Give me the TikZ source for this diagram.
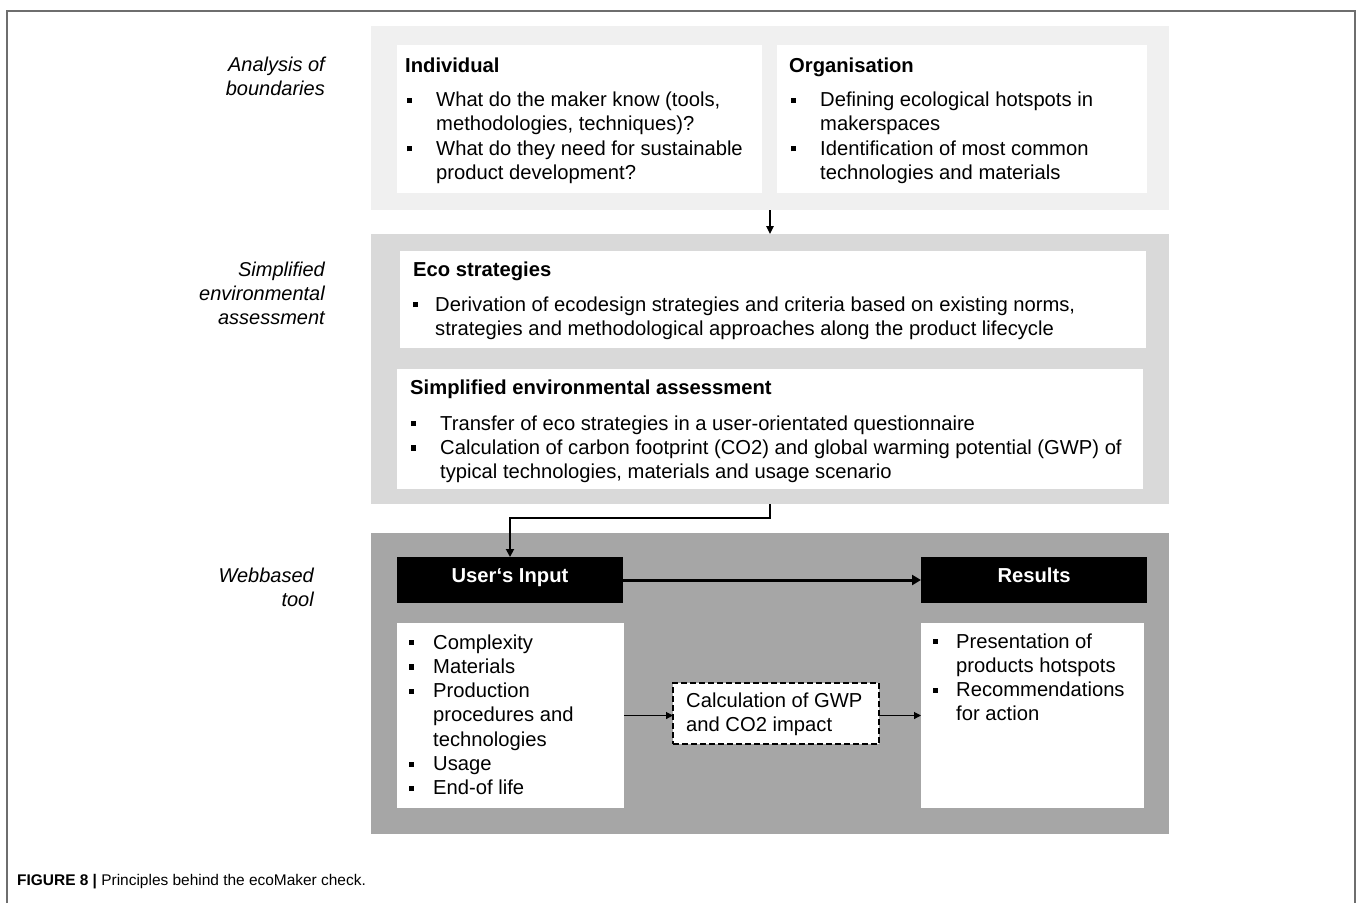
\documentclass[tikz,border=0pt]{standalone}
\usepackage{fontspec}
\setmainfont{Liberation Sans}
\usetikzlibrary{arrows.meta}
\definecolor{panelA}{HTML}{F0F0F0}
\definecolor{panelB}{HTML}{D9D9D9}
\definecolor{panelC}{HTML}{A6A6A6}
\definecolor{frameC}{HTML}{6E6E6E}
\newcommand{\bsq}{\rule[3.8pt]{4.8pt}{5.2pt}}
\newcommand{\txtfont}{\fontsize{20.2}{24.3}\selectfont}
\newcommand{\lblfont}{\fontsize{20}{24}\selectfont\itshape}
\begin{document}
\begin{tikzpicture}[x=1pt,y=-1pt,
  panel/.style={anchor=north west, inner sep=0pt, outer sep=0pt, draw=none},
  wbox/.style={panel, fill=white},
  bbox/.style={panel, fill=black},
  ttl/.style={anchor=base west, inner sep=0pt, font=\txtfont\bfseries},
  lst/.style={anchor=base west, inner sep=0pt, font=\txtfont},
  lbl/.style={anchor=base east, inner sep=0pt, font=\lblfont},
  hdr/.style={anchor=base, inner sep=0pt, font=\txtfont\bfseries, text=white},
  arrthin/.style={line width=1.4pt, -{Triangle[length=8pt,width=7.5pt]}},
  arrmid/.style={line width=1.8pt, -{Triangle[length=8pt,width=8pt]}},
  arrthick/.style={line width=3pt, -{Triangle[length=9pt,width=10pt]}},
  arrsmall/.style={line width=1.1pt, -{Triangle[length=7pt,width=7pt]}},
  frameline/.style={draw=frameC, line width=1.5pt}
]
\useasboundingbox (0,0) rectangle (1357,903);
% frame
\draw[frameline] (7,903) |- (1355,11) -- (1355,903);

% ---------- top panel ----------
\node[panel, fill=panelA, minimum width=798pt, minimum height=184pt] (topP) at (371,26) {};
\node[wbox, minimum width=365pt, minimum height=148pt] (indiv) at (397,45) {};
\node[wbox, minimum width=370pt, minimum height=148pt] (org) at (777,45) {};
\node[ttl] (indivT) at (405,72) {Individual};
\node[lst] (indivL) at (407,106.5) {\begin{tabular}[t]{@{}l@{\hspace{24.2pt}}l@{}}
\bsq & What do the maker know (tools,\\
     & methodologies, techniques)?\\
\bsq & What do they need for sustainable\\
     & product development?
\end{tabular}};
\node[ttl] (orgT) at (789,72) {Organisation};
\node[lst] (orgL) at (791,106.5) {\begin{tabular}[t]{@{}l@{\hspace{24.2pt}}l@{}}
\bsq & Defining ecological hotspots in\\
     & makerspaces\\
\bsq & Identification of most common\\
     & technologies and materials
\end{tabular}};

% ---------- middle panel ----------
\node[panel, fill=panelB, minimum width=798pt, minimum height=270pt] (midP) at (371,234) {};
\node[wbox, minimum width=746pt, minimum height=97pt] (eco) at (400,251) {};
\node[wbox, minimum width=746pt, minimum height=120pt] (simp) at (397,369) {};
\node[ttl] (ecoT) at (413,276) {Eco strategies};
\node[lst] (ecoL) at (413,311) {\begin{tabular}[t]{@{}l@{\hspace{17.2pt}}l@{}}
\bsq & Derivation of ecodesign strategies and criteria based on existing norms,\\
     & strategies and methodological approaches along the product lifecycle
\end{tabular}};
\node[ttl] (simpT) at (410,394) {Simplified environmental assessment};
\node[lst] (simpL) at (411,430) {\begin{tabular}[t]{@{}l@{\hspace{24.2pt}}l@{}}
\bsq & Transfer of eco strategies in a user-orientated questionnaire\\
\bsq & Calculation of carbon footprint (CO2) and global warming potential (GWP) of\\
     & typical technologies, materials and usage scenario
\end{tabular}};

% ---------- bottom panel ----------
\node[panel, fill=panelC, minimum width=798pt, minimum height=301pt] (botP) at (371,533) {};
\node[bbox, minimum width=226pt, minimum height=46pt] (inp) at (397,557) {};
\node[bbox, minimum width=226pt, minimum height=46pt] (res) at (921,557) {};
\node[hdr] (inpT) at (510,582) {User‘s Input};
\node[hdr] (resT) at (1034,582) {Results};
\node[wbox, minimum width=227pt, minimum height=185pt] (inl) at (397,623) {};
\node[wbox, minimum width=223pt, minimum height=185pt] (resl) at (921,623) {};
\node[panel, fill=white, draw=black, line width=1.3pt, dash pattern=on 6pt off 3pt, minimum width=206pt, minimum height=61pt] (calc) at (673,683) {};
\node[lst] (inlL) at (409,649) {\begin{tabular}[t]{@{}l@{\hspace{19.2pt}}l@{}}
\bsq & Complexity\\
\bsq & Materials\\
\bsq & Production\\
     & procedures and\\
     & technologies\\
\bsq & Usage\\
\bsq & End-of life
\end{tabular}};
\node[lst] (reslL) at (933,648) {\begin{tabular}[t]{@{}l@{\hspace{18.2pt}}l@{}}
\bsq & Presentation of\\
     & products hotspots\\
\bsq & Recommendations\\
     & for action
\end{tabular}};
\node[lst] (calcT) at (686,707.5) {\begin{tabular}[t]{@{}l@{}}
Calculation of GWP\\
and CO2 impact
\end{tabular}};

% ---------- side labels ----------
\node[lbl] (lab1) at (325,71) {\begin{tabular}[t]{@{}r@{}}Analysis of\\ boundaries\end{tabular}};
\node[lbl] (lab2) at (325,276) {\begin{tabular}[t]{@{}r@{}}Simplified\\ environmental\\ assessment\end{tabular}};
\node[lbl] (lab3) at (314,582) {\begin{tabular}[t]{@{}r@{}}Webbased\\ tool\end{tabular}};

% ---------- connectors ----------
\draw[arrthin] (topP.south) -- (midP.north);
\draw[arrmid] (midP.south) -- ++(0,14) -| (inp.north);
\draw[arrthick] (inp.east) -- (res.west);
\draw[arrsmall] (inl.east) -- (inl.east -| calc.west);
\draw[arrsmall] (calc.east |- inl.east) -- (resl.west |- inl.east);

% ---------- caption ----------
\node[anchor=base west, inner sep=0pt, font=\fontsize{15.45}{18}\selectfont] (cap) at (17,885.5) {\textbf{FIGURE 8 |} Principles behind the ecoMaker check.};
\end{tikzpicture}
\end{document}
